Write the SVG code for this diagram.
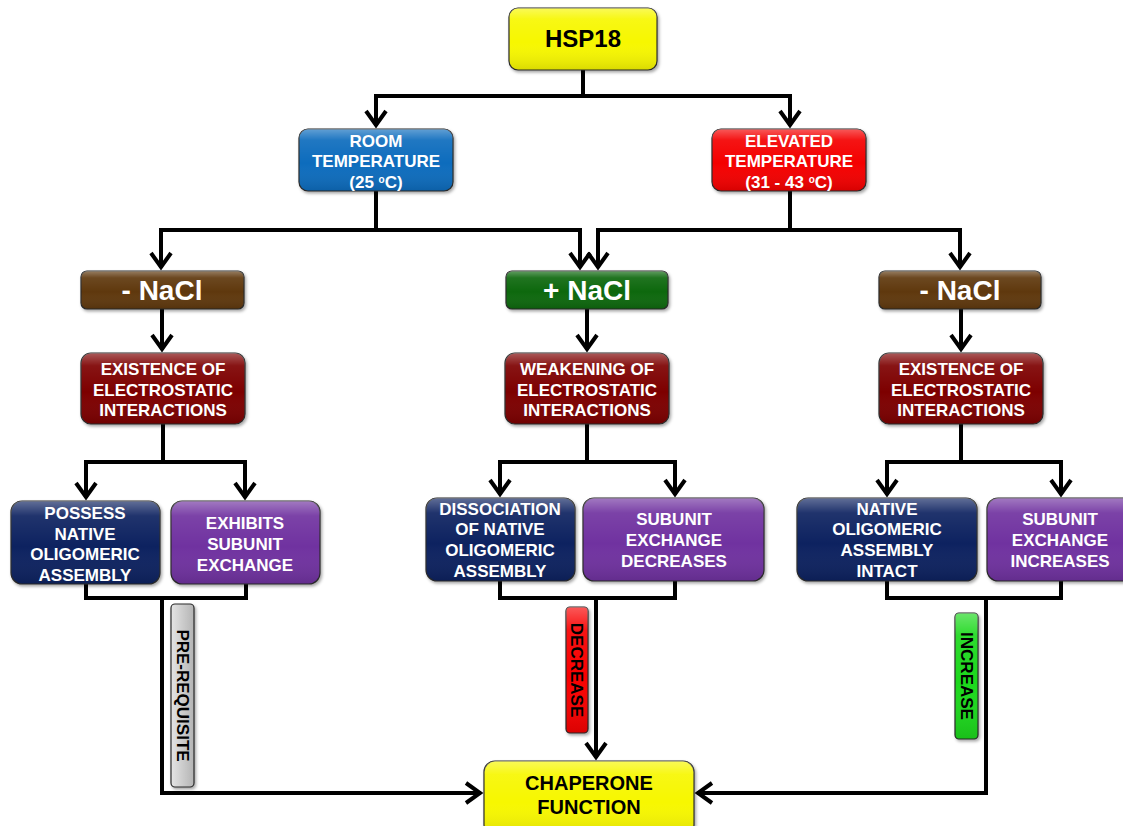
<svg xmlns="http://www.w3.org/2000/svg" width="1123" height="826" viewBox="0 0 1123 826">
<defs>
<style>
.box{stroke:#2a2a2a;stroke-width:1.2;filter:url(#sh)}
.gloss{fill:url(#gl);stroke:none}
.t{font-family:"Liberation Sans",Arial,sans-serif;font-weight:bold;text-anchor:middle}
.w{fill:#fff;font-size:17px}
.k{fill:#000}
.big{font-size:28px;fill:#fff}
.lab{font-size:17px;fill:#000}
.c{fill:none;stroke:#000;stroke-width:4;stroke-linejoin:miter}
.a{marker-end:url(#arr)}
</style>
<linearGradient id="gl" x1="0" y1="0" x2="0" y2="1">
<stop offset="0" stop-color="#fff" stop-opacity="0.35"/>
<stop offset="0.18" stop-color="#fff" stop-opacity="0.08"/>
<stop offset="0.55" stop-color="#fff" stop-opacity="0"/>
<stop offset="1" stop-color="#000" stop-opacity="0.12"/>
</linearGradient>
<linearGradient id="gray" x1="0" y1="0" x2="1" y2="0">
<stop offset="0" stop-color="#e4e4e4"/>
<stop offset="1" stop-color="#b4b4b4"/>
</linearGradient>
<filter id="sh" x="-10%" y="-10%" width="130%" height="130%">
<feDropShadow dx="1.5" dy="2" stdDeviation="1.5" flood-color="#000" flood-opacity="0.35"/>
</filter>
<marker id="arr" markerUnits="userSpaceOnUse" viewBox="-20 -15 30 30" markerWidth="30" markerHeight="30" refX="1" refY="0" orient="auto" overflow="visible">
<path d="M-14,-10 L0,0 L-14,10" fill="none" stroke="#000" stroke-width="4"/>
</marker>
</defs>
<rect width="1123" height="826" fill="#fff"/>

<g id="connectors">
<path class="c a" d="M583,70 V96 H376 V126"/>
<path class="c a" d="M583,96 H790 V126"/>
<path class="c a" d="M376,191 V230 H161 V268"/>
<path class="c a" d="M376,230 H580 V268"/>
<path class="c a" d="M790,191 V230 H598 V268"/>
<path class="c a" d="M790,230 H960 V268"/>
<path class="c a" d="M162,309 V350"/>
<path class="c a" d="M587,309 V350"/>
<path class="c a" d="M961,309 V350"/>
<path class="c a" d="M163,424 V462 H86 V498"/>
<path class="c a" d="M163,462 H245 V498"/>
<path class="c a" d="M587,424 V462 H500 V495"/>
<path class="c a" d="M587,462 H675 V495"/>
<path class="c a" d="M961,424 V462 H887 V495"/>
<path class="c a" d="M961,462 H1061 V495"/>
<path class="c" d="M86,584 V598 H246 V584"/>
<path class="c a" d="M162,598 V793 H481"/>
<path class="c" d="M500,581 V598 H675 V581"/>
<path class="c a" d="M596,598 V758"/>
<path class="c" d="M887,581 V598 H1061 V581"/>
<path class="c a" d="M986,598 V793 H697"/>
</g>

<g id="hsp18">
<rect class="box" x="509" y="8" width="148" height="62" rx="9" fill="#f7f700"/>
<rect class="gloss" x="509" y="8" width="148" height="62" rx="9"/>
<text class="t k" x="583" y="47" font-size="24">HSP18</text>
</g>

<g id="room-temp">
<rect class="box" x="299" y="129" width="154" height="62" rx="9" fill="#0b6cbd"/>
<rect class="gloss" x="299" y="129" width="154" height="62" rx="9"/>
<text class="t w" x="376" y="147">ROOM</text>
<text class="t w" x="376" y="167">TEMPERATURE</text>
<text class="t w" x="376" y="188">(25 <tspan font-size="10" dy="-5">o</tspan><tspan dy="5">C)</tspan></text>
</g>

<g id="elevated-temp">
<rect class="box" x="712" y="129" width="154" height="62" rx="9" fill="#f40000"/>
<rect class="gloss" x="712" y="129" width="154" height="62" rx="9"/>
<text class="t w" x="789" y="147">ELEVATED</text>
<text class="t w" x="789" y="167">TEMPERATURE</text>
<text class="t w" x="789" y="188">(31 - 43 <tspan font-size="10" dy="-5">o</tspan><tspan dy="5">C)</tspan></text>
</g>

<g id="minus-nacl-left">
<rect class="box" x="81" y="271" width="163" height="38" rx="6" fill="#5f370c"/>
<rect class="gloss" x="81" y="271" width="163" height="38" rx="6"/>
<text class="t big" x="162" y="300">- NaCl</text>
</g>

<g id="plus-nacl">
<rect class="box" x="506" y="271" width="162" height="38" rx="6" fill="#0a680a"/>
<rect class="gloss" x="506" y="271" width="162" height="38" rx="6"/>
<text class="t big" x="587" y="300">+ NaCl</text>
</g>

<g id="minus-nacl-right">
<rect class="box" x="879" y="271" width="162" height="38" rx="6" fill="#5f370c"/>
<rect class="gloss" x="879" y="271" width="162" height="38" rx="6"/>
<text class="t big" x="960" y="300">- NaCl</text>
</g>

<g id="existence-left">
<rect class="box" x="81" y="353" width="164" height="71" rx="10" fill="#7d0303"/>
<rect class="gloss" x="81" y="353" width="164" height="71" rx="10"/>
<text class="t w" x="163" y="375">EXISTENCE OF</text>
<text class="t w" x="163" y="396">ELECTROSTATIC</text>
<text class="t w" x="163" y="416">INTERACTIONS</text>
</g>

<g id="weakening">
<rect class="box" x="505" y="353" width="164" height="71" rx="10" fill="#7d0303"/>
<rect class="gloss" x="505" y="353" width="164" height="71" rx="10"/>
<text class="t w" x="587" y="375">WEAKENING OF</text>
<text class="t w" x="587" y="396">ELECTROSTATIC</text>
<text class="t w" x="587" y="416">INTERACTIONS</text>
</g>

<g id="existence-right">
<rect class="box" x="879" y="353" width="164" height="71" rx="10" fill="#7d0303"/>
<rect class="gloss" x="879" y="353" width="164" height="71" rx="10"/>
<text class="t w" x="961" y="375">EXISTENCE OF</text>
<text class="t w" x="961" y="396">ELECTROSTATIC</text>
<text class="t w" x="961" y="416">INTERACTIONS</text>
</g>

<g id="possess">
<rect class="box" x="11" y="501" width="149" height="83" rx="11" fill="#0c2460"/>
<rect class="gloss" x="11" y="501" width="149" height="83" rx="11"/>
<text class="t w" x="85" y="519">POSSESS</text>
<text class="t w" x="85" y="540">NATIVE</text>
<text class="t w" x="85" y="560">OLIGOMERIC</text>
<text class="t w" x="85" y="581">ASSEMBLY</text>
</g>

<g id="exhibits">
<rect class="box" x="171" y="501" width="149" height="83" rx="11" fill="#7030a0"/>
<rect class="gloss" x="171" y="501" width="149" height="83" rx="11"/>
<text class="t w" x="245" y="529">EXHIBITS</text>
<text class="t w" x="245" y="550">SUBUNIT</text>
<text class="t w" x="245" y="571">EXCHANGE</text>
</g>

<g id="dissociation">
<rect class="box" x="426" y="498" width="149" height="83" rx="11" fill="#0c2460"/>
<rect class="gloss" x="426" y="498" width="149" height="83" rx="11"/>
<text class="t w" x="500" y="515">DISSOCIATION</text>
<text class="t w" x="500" y="535">OF NATIVE</text>
<text class="t w" x="500" y="556">OLIGOMERIC</text>
<text class="t w" x="500" y="577">ASSEMBLY</text>
</g>

<g id="exchange-decreases">
<rect class="box" x="583" y="498" width="181" height="83" rx="11" fill="#7030a0"/>
<rect class="gloss" x="583" y="498" width="181" height="83" rx="11"/>
<text class="t w" x="674" y="525">SUBUNIT</text>
<text class="t w" x="674" y="546">EXCHANGE</text>
<text class="t w" x="674" y="567">DECREASES</text>
</g>

<g id="native-intact">
<rect class="box" x="797" y="498" width="180" height="83" rx="11" fill="#0c2460"/>
<rect class="gloss" x="797" y="498" width="180" height="83" rx="11"/>
<text class="t w" x="887" y="515">NATIVE</text>
<text class="t w" x="887" y="535">OLIGOMERIC</text>
<text class="t w" x="887" y="556">ASSEMBLY</text>
<text class="t w" x="887" y="577">INTACT</text>
</g>

<g id="exchange-increases">
<rect class="box" x="987" y="498" width="148" height="83" rx="11" fill="#7030a0"/>
<rect class="gloss" x="987" y="498" width="148" height="83" rx="11"/>
<text class="t w" x="1060" y="525">SUBUNIT</text>
<text class="t w" x="1060" y="546">EXCHANGE</text>
<text class="t w" x="1060" y="567">INCREASES</text>
</g>

<g id="chaperone">
<rect class="box" x="484" y="761" width="210" height="75" rx="11" fill="#f7f700"/>
<rect class="gloss" x="484" y="761" width="210" height="75" rx="11"/>
<text class="t k" x="589" y="790" font-size="20">CHAPERONE</text>
<text class="t k" x="589" y="814" font-size="20">FUNCTION</text>
</g>

<g id="label-prerequisite">
<rect class="box" x="171" y="604" width="23" height="183" rx="4" fill="url(#gray)"/>
<text class="t lab" transform="translate(182.5,695.5) rotate(90)" y="6">PRE-REQUISITE</text>
</g>

<g id="label-decrease">
<rect class="box" x="566" y="607" width="22" height="126" rx="4" fill="#f80000"/>
<rect class="gloss" x="566" y="607" width="22" height="126" rx="4"/>
<text class="t lab" transform="translate(577,670) rotate(90)" y="6">DECREASE</text>
</g>

<g id="label-increase">
<rect class="box" x="955" y="613" width="23" height="126" rx="4" fill="#1ed81e"/>
<rect class="gloss" x="955" y="613" width="23" height="126" rx="4"/>
<text class="t lab" transform="translate(966.5,676) rotate(90)" y="6">INCREASE</text>
</g>
</svg>
